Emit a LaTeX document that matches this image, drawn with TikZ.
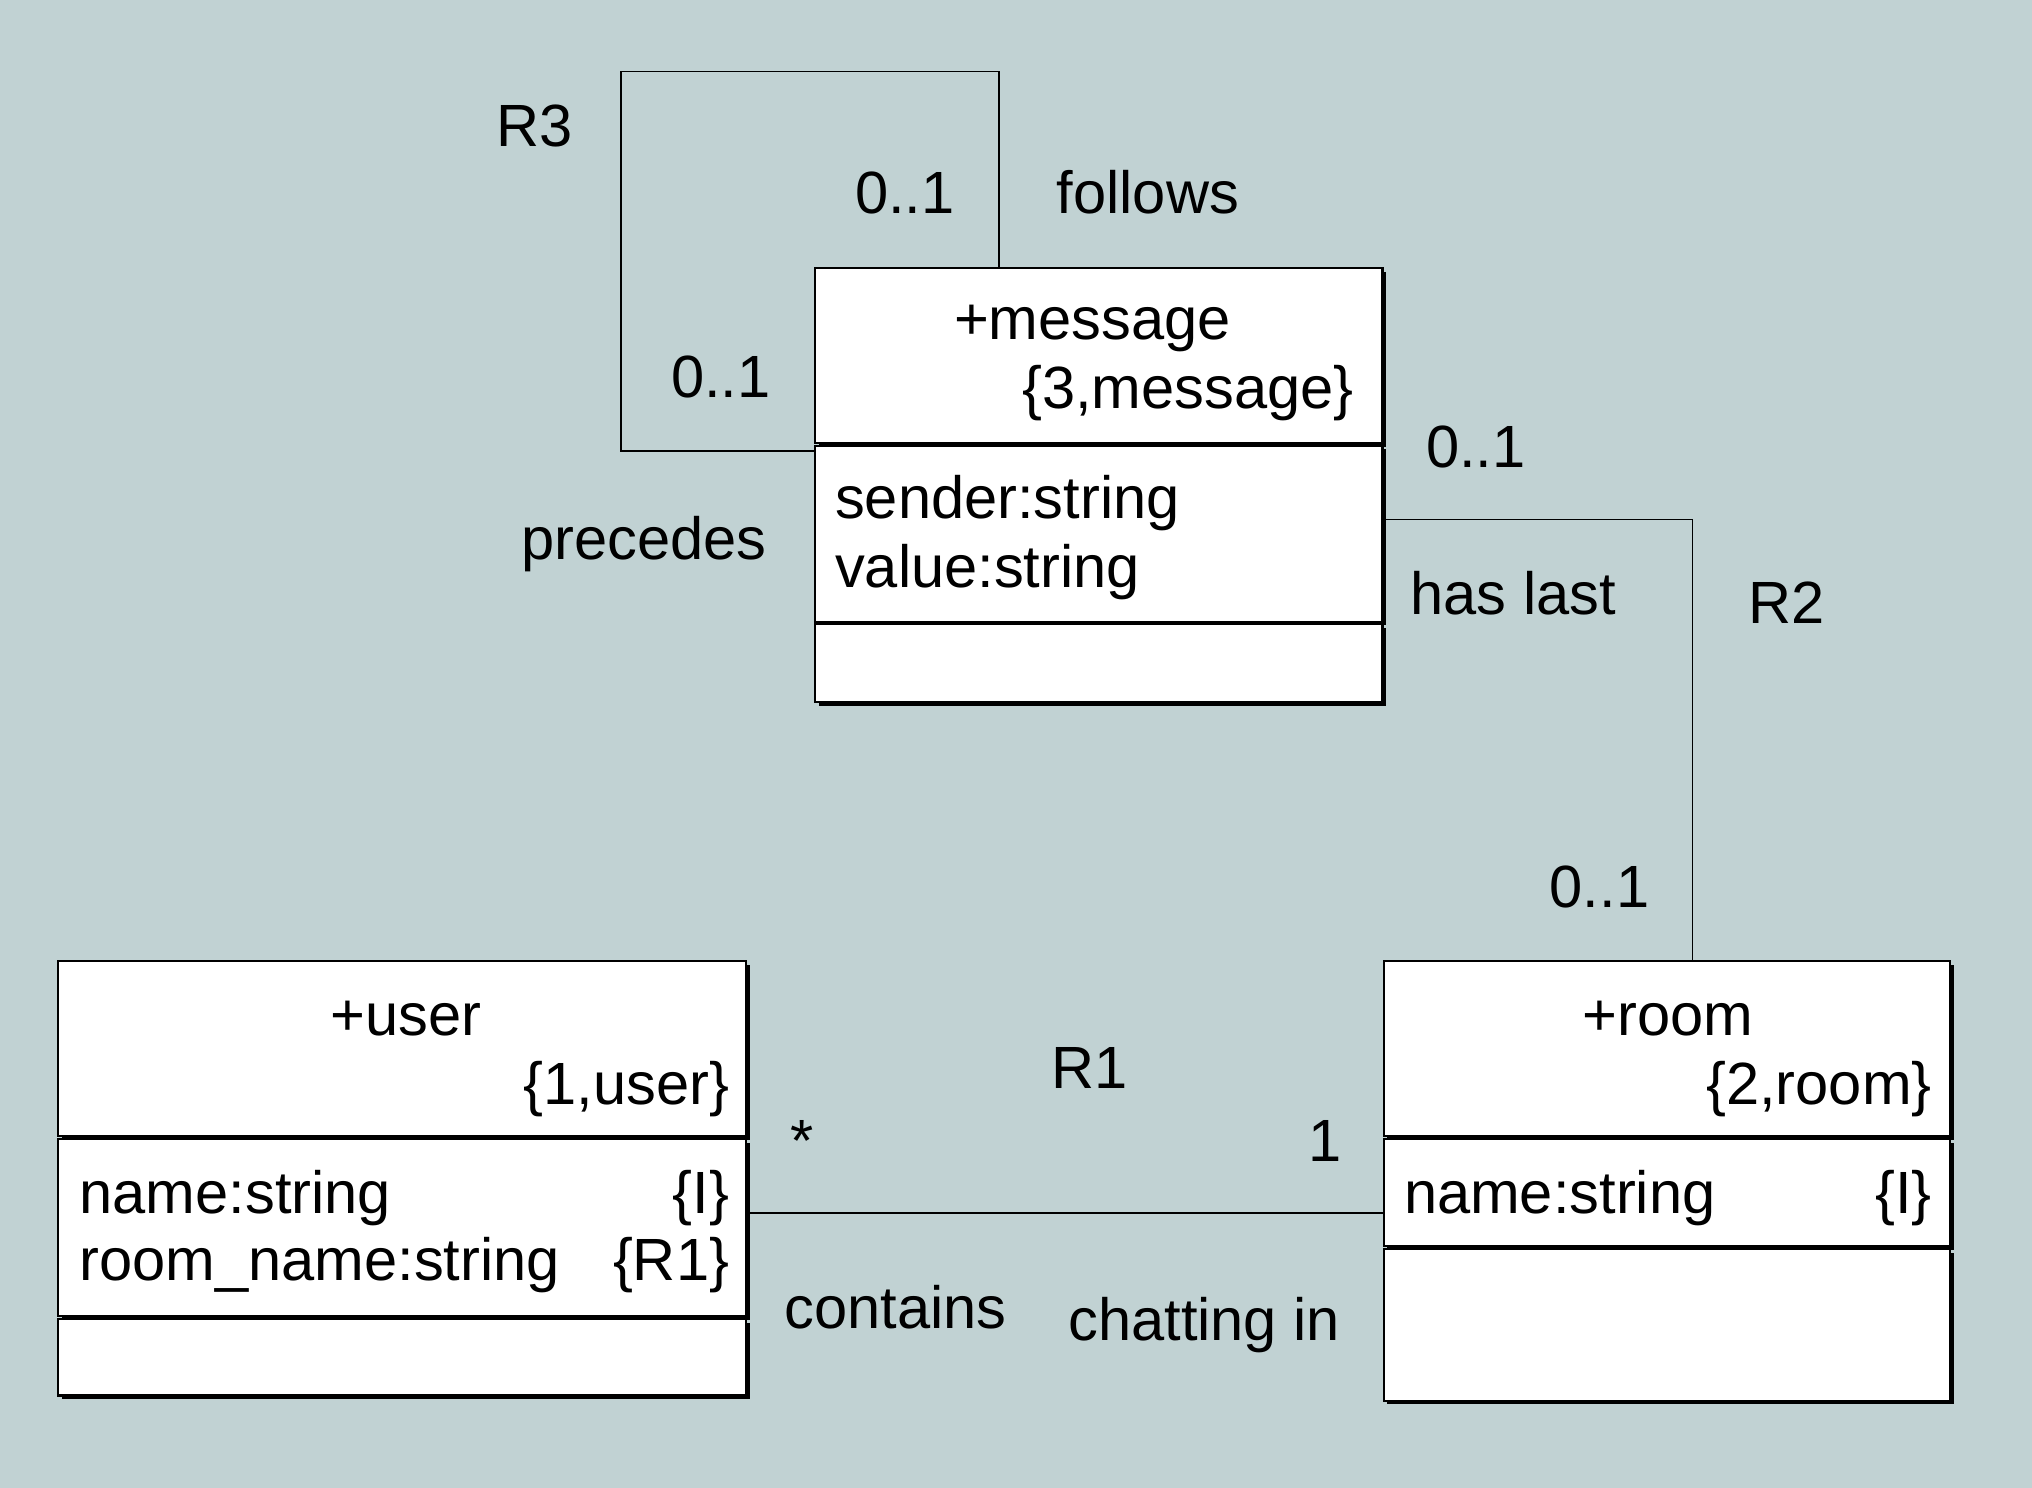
\documentclass[tikz,border=0pt]{standalone}
\usepackage{fontspec}
\setmainfont{Liberation Sans}
\usetikzlibrary{shadows}
\definecolor{bgteal}{RGB}{193,210,211}

\begin{document}
\begin{tikzpicture}[x=0.5pt,y=0.5pt,yscale=-1,
    every node/.style={font=\fontsize{23}{27}\selectfont, inner sep=0pt},
    compartment/.style={draw=black, fill=white, line width=0.8pt, anchor=north west, minimum width=#1,
        drop shadow={shadow xshift=1.4pt, shadow yshift=-1.4pt, opacity=1, fill=black}},
    assoc/.style={draw=black, line width=0.6pt}]
    %set diagram size to the reference: 1568 x 1148
    \fill [bgteal] (0,0) rectangle (1568,1148);

    %Shape: Rectangle [message]
    \draw (628,206) node [compartment=219pt, minimum height=67.5pt] (msghead) {};
    \draw (628,343) node [compartment=219pt, minimum height=68pt] (msgattr) {};
    \draw (628,481) node [compartment=219pt, minimum height=30pt] (msgops) {};
    %Shape: Rectangle [user]
    \draw (44,741) node [compartment=265.5pt, minimum height=67.5pt] (userhead) {};
    \draw (44,878) node [compartment=265.5pt, minimum height=68.5pt] (userattr) {};
    \draw (44,1017) node [compartment=265.5pt, minimum height=29.5pt] (userops) {};
    %Shape: Rectangle [room]
    \draw (1067,741) node [compartment=218.5pt, minimum height=67.5pt] (roomhead) {};
    \draw (1067,878) node [compartment=218.5pt, minimum height=41.5pt] (roomattr) {};
    \draw (1067,963) node [compartment=218.5pt, minimum height=58.5pt] (roomops) {};

    %Bends of the connectors
    \coordinate (r3top) at (771,55);
    \coordinate (r3left) at (479,348);
    \coordinate (r2bend) at (1306,401);
    \coordinate (r1level) at (0,936);

    %Straight Lines [R3]
    \draw [assoc] (msghead.north -| r3top) -- (r3top) -| (r3left) -- (msgattr.west |- r3left);
    %Straight Lines [R2]
    \draw [assoc] (msgattr.east |- r2bend) -| (roomhead.north -| r2bend);
    %Straight Lines [R1]
    \draw [assoc] (userattr.east |- r1level) -- (roomattr.west |- r1level);

    % Text Node
    \draw (843,262) node [anchor=base] (msgname) {+message};
    % Text Node
    \draw (1045,315) node [anchor=base east] (msgkey) {\{3,message\}};
    % Text Node
    \draw (644,400) node [anchor=base west] (msgsender) {sender:string};
    % Text Node
    \draw (644,453) node [anchor=base west] (msgvalue) {value:string};

    % Text Node
    \draw (313,799) node [anchor=base] (username) {+user};
    % Text Node
    \draw (563,852) node [anchor=base east] (userkey) {\{1,user\}};
    % Text Node
    \draw (61,936) node [anchor=base west] (username1) {name:string};
    % Text Node
    \draw (563,936) node [anchor=base east] (username1tag) {\{I\}};
    % Text Node
    \draw (61,988) node [anchor=base west] (userroom) {room\_name:string};
    % Text Node
    \draw (563,988) node [anchor=base east] (userroomtag) {\{R1\}};

    % Text Node
    \draw (1287,799) node [anchor=base] (roomname) {+room};
    % Text Node
    \draw (1491,852) node [anchor=base east] (roomkey) {\{2,room\}};
    % Text Node
    \draw (1083,936) node [anchor=base west] (roomname1) {name:string};
    % Text Node
    \draw (1491,936) node [anchor=base east] (roomname1tag) {\{I\}};

    % Text Node
    \draw (383,113) node [anchor=base west] (r3label) {R3};
    % Text Node
    \draw (737,165) node [anchor=base east] (r3multtop) {0..1};
    % Text Node
    \draw (815,165) node [anchor=base west] (r3follows) {follows};
    % Text Node
    \draw (595,307) node [anchor=base east] (r3multleft) {0..1};
    % Text Node
    \draw (402,432) node [anchor=base west] (r3precedes) {precedes};

    % Text Node
    \draw (1100,361) node [anchor=base west] (r2multmsg) {0..1};
    % Text Node
    \draw (1088,474) node [anchor=base west] (r2haslast) {has last};
    % Text Node
    \draw (1349,481) node [anchor=base west] (r2label) {R2};
    % Text Node
    \draw (1273,700) node [anchor=base east] (r2multroom) {0..1};

    % Text Node
    \draw (841,840) node [anchor=base] (r1label) {R1};
    % Text Node
    \draw (619,896) node [anchor=base] (r1multuser) {*};
    % Text Node
    \draw (1036,896) node [anchor=base east] (r1multroom) {1};
    % Text Node
    \draw (605,1025) node [anchor=base west] (r1contains) {contains};
    % Text Node
    \draw (824,1034) node [anchor=base west] (r1chatting) {chatting in};

\end{tikzpicture}
\end{document}
